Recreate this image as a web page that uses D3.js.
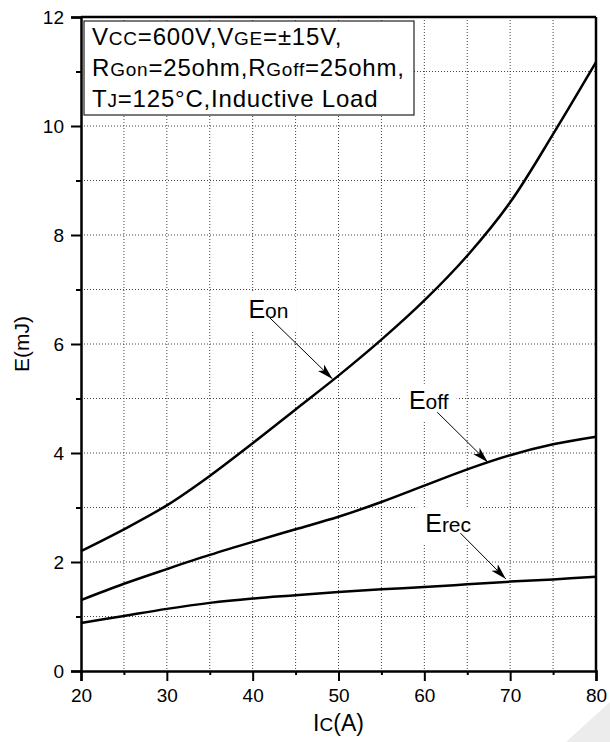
<!DOCTYPE html>
<html lang="en">
  <head>
    <meta charset="UTF-8">
    <script src="https://d3js.org/d3.v7.min.js"></script>
    <style>
      html, body { margin: 0; padding: 0; background: #fff; }
      svg { display: block; font-family: "Liberation Sans", Arial, sans-serif; }
    </style>
  </head>
  <body>
    <svg id="graph" width="610" height="742"></svg>
    <script>
      // collector current (A)
      const current = [20, 25, 30, 35, 40, 45, 50, 55, 60, 65, 70, 75, 80];
      // switching energies (mJ)
      const eon  = [2.2, 2.6, 3.04, 3.58, 4.18, 4.8, 5.42, 6.08, 6.8, 7.62, 8.6, 9.85, 11.17];
      const eoff = [1.30, 1.60, 1.87, 2.13, 2.37, 2.60, 2.83, 3.10, 3.40, 3.70, 3.96, 4.16, 4.30];
      const erec = [0.88, 1.01, 1.14, 1.25, 1.33, 1.39, 1.45, 1.50, 1.54, 1.59, 1.64, 1.68, 1.73];

      const xTicks = [20, 30, 40, 50, 60, 70, 80];
      const yTicks = [0, 2, 4, 6, 8, 10, 12];

      // curve labels, label anchor (lx, ly), arrow start (sx, sy), tip (tx, ty) in data units
      const labels = [
        { main: 'E', sub: 'on',  lx: 39.5, ly: 6.48, sx: 42.0, sy: 6.48, tx: 49.3, ty: 5.36 },
        { main: 'E', sub: 'off', lx: 58.2, ly: 4.81, sx: 61.5, sy: 4.75, tx: 67.4, ty: 3.83 },
        { main: 'E', sub: 'rec', lx: 60.1, ly: 2.55, sx: 64.2, sy: 2.53, tx: 69.5, ty: 1.69 }
      ];

      // legend text, segments flagged 1 are the subscript-like letters
      const legendLines = [
        [['V', 0], ['CC', 1], ['=600V,V', 0], ['GE', 1], ['=\u00b115V,', 0]],
        [['R', 0], ['Gon', 1], ['=25ohm,R', 0], ['Goff', 1], ['=25ohm,', 0]],
        [['T', 0], ['J', 1], ['=125\u00b0C,Inductive Load', 0]]
      ];

      const width = 610, height = 742;
      const margin = { top: 17, right: 14, bottom: 71, left: 81 };
      const w = width - margin.left - margin.right;
      const h = height - margin.top - margin.bottom;

      const svg = d3.select('#graph');

      // faint watermark corner
      svg.append('polygon')
        .attr('points', '566,742 610,742 610,702')
        .attr('fill', '#ececec');

      const g = svg.append('g')
        .attr('transform', `translate(${margin.left},${margin.top})`);

      const x = d3.scaleLinear().domain([20, 80]).range([0, w]);
      const y = d3.scaleLinear().domain([0, 12]).range([h, 0]);

      // dotted grid at every minor step
      const gridX = d3.range(25, 80, 5);
      const gridY = d3.range(1, 12, 1);
      g.selectAll('.gx').data(gridX).enter().append('line')
        .attr('x1', d => x(d)).attr('x2', d => x(d))
        .attr('y1', 0).attr('y2', h)
        .attr('stroke', '#444').attr('stroke-width', 1)
        .attr('stroke-dasharray', '1,2');
      g.selectAll('.gy').data(gridY).enter().append('line')
        .attr('x1', 0).attr('x2', w)
        .attr('y1', d => y(d)).attr('y2', d => y(d))
        .attr('stroke', '#444').attr('stroke-width', 1)
        .attr('stroke-dasharray', '1,2');

      // label backings and labels
      const labelG = g.append('g');
      labels.forEach(l => {
        const t = labelG.append('text')
          .attr('x', x(l.lx)).attr('y', y(l.ly))
          .attr('fill', '#000');
        t.append('tspan').attr('font-size', 25).text(l.main);
        t.append('tspan').attr('font-size', 21).text(l.sub);
        const bb = t.node().getBBox();
        labelG.insert('rect', ':first-child')
          .attr('x', bb.x - 8).attr('y', bb.y - 2)
          .attr('width', bb.width + 16).attr('height', bb.height + 10)
          .attr('fill', '#fff');
      });

      // axes
      const xAxis = g.append('g').attr('transform', `translate(0,${h})`)
        .call(d3.axisBottom(x).tickValues(xTicks).tickSize(10).tickFormat(d3.format('d')));
      g.append('g').attr('transform', `translate(0,${h})`)
        .call(d3.axisBottom(x).tickValues(gridX.filter(d => d % 10)).tickSize(4).tickFormat(''))
        .select('.domain').remove();
      const yAxis = g.append('g')
        .call(d3.axisLeft(y).tickValues(yTicks).tickSize(10).tickFormat(d3.format('d')));
      g.append('g')
        .call(d3.axisLeft(y).tickValues(gridY.filter(d => d % 2)).tickSize(5).tickFormat(''))
        .select('.domain').remove();

      g.selectAll('.tick line').attr('stroke', '#000').attr('stroke-width', 2);
      g.selectAll('.domain').attr('stroke', '#000').attr('stroke-width', 2.5);
      xAxis.selectAll('text').attr('font-size', 19).attr('dy', '0.95em').attr('fill', '#000')
        .attr('font-family', '"Liberation Sans", Arial, sans-serif');
      yAxis.selectAll('text').attr('font-size', 19).attr('dy', '0.35em').attr('x', -17).attr('fill', '#000')
        .attr('font-family', '"Liberation Sans", Arial, sans-serif');

      // top and right frame
      g.append('line').attr('x1', 0).attr('x2', w).attr('y1', 0).attr('y2', 0)
        .attr('stroke', '#000').attr('stroke-width', 2.5);
      g.append('line').attr('x1', w).attr('x2', w).attr('y1', 0).attr('y2', h)
        .attr('stroke', '#000').attr('stroke-width', 2.5);

      // curves
      const line = d3.line()
        .x((d, i) => x(current[i]))
        .y(d => y(d))
        .curve(d3.curveCatmullRom.alpha(0.5));
      [eon, eoff, erec].forEach(s => {
        g.append('path').datum(s)
          .attr('d', line)
          .attr('fill', 'none')
          .attr('stroke', '#000')
          .attr('stroke-width', 2.5);
      });

      // arrow marker
      svg.append('defs').append('marker')
        .attr('id', 'head')
        .attr('viewBox', '0 0 16 10')
        .attr('refX', 16).attr('refY', 5)
        .attr('markerWidth', 16).attr('markerHeight', 10)
        .attr('markerUnits', 'userSpaceOnUse')
        .attr('orient', 'auto')
        .append('path').attr('d', 'M0,0.5 L16,5 L0,9.5 L4,5 Z').attr('fill', '#000');

      g.selectAll('.arrow').data(labels).enter().append('line')
        .attr('x1', d => x(d.sx)).attr('y1', d => y(d.sy))
        .attr('x2', d => x(d.tx)).attr('y2', d => y(d.ty))
        .attr('stroke', '#000').attr('stroke-width', 1)
        .attr('marker-end', 'url(#head)');

      // legend box
      const box = g.append('g').attr('transform', 'translate(3,4)');
      box.append('rect')
        .attr('width', 330).attr('height', 94)
        .attr('fill', '#fff').attr('stroke', '#222').attr('stroke-width', 1.2);
      legendLines.forEach((segs, i) => {
        const t = box.append('text')
          .attr('x', 8).attr('y', 24 + i * 31)
          .attr('fill', '#000')
          .attr('letter-spacing', 0.8);
        segs.forEach(s => {
          t.append('tspan').attr('font-size', s[1] ? 19 : 24).text(s[0]);
        });
      });

      // axis titles
      const xt = svg.append('text')
        .attr('x', margin.left + x(50)).attr('y', 731)
        .attr('text-anchor', 'middle').attr('fill', '#000');
      xt.append('tspan').attr('font-size', 23).text('I');
      xt.append('tspan').attr('font-size', 19).text('C');
      xt.append('tspan').attr('font-size', 23).text('(A)');

      svg.append('text')
        .attr('transform', `translate(29,${margin.top + y(6)}) rotate(-90)`)
        .attr('text-anchor', 'middle')
        .attr('font-size', 21).attr('fill', '#000')
        .text('E(mJ)');
    </script>
  </body>
</html>
